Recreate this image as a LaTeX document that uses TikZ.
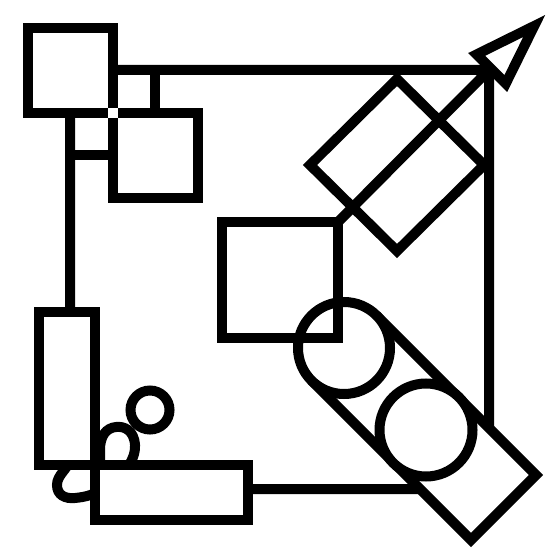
\documentclass[tikz,border=0pt]{standalone}
\begin{document}
\begin{tikzpicture}[x=0.5pt,y=-0.5pt,line width=5pt,line join=miter,
  shapebox/.style={draw=black,fill=white},
  plainbox/.style={draw=black,rectangle,inner sep=0pt,outer sep=0pt}]
\useasboundingbox (0,0) rectangle (560,560);
% frame with loop
\coordinate (fNE) at (489,70);
\draw (110,489) -- (489,489) -- (fNE) -- (70,70) -- (70,460)
  .. controls (67,470) and (57,475) .. (57,485)
  .. controls (57,495) and (65,499) .. (75,498)
  .. controls (85,497) and (92,495) .. (97,492)
  .. controls (120,480) and (136,462) .. (135,445)
  .. controls (134,430) and (124,426) .. (116,427)
  .. controls (106,428) and (100,436) .. (100,450)
  -- (100,475);
% top-left cluster
\draw (70,70) rectangle (155,155);
\draw[shapebox] (28,28) rectangle (113,113);
\draw[shapebox] (113,113) rectangle (198,198);
\fill[white] (108,108) rectangle (118,118);
% bottom-left rectangles
\draw[shapebox] (39,312) rectangle (95,465);
\draw[shapebox] (95,465) rectangle (248,520);
\draw (150,410) circle (19.5);
% bottom-right capsule
\fill[white] (376.5,315.5) -- (536,475) -- (471,540) -- (311.5,380.5) -- cycle;
\draw (376.5,315.5) -- (536,475) -- (471,540) -- (311.5,380.5);
\draw[shapebox] (344,348) circle (46);
\draw[shapebox] (426,430) circle (46.5);
% centre square
\node[plainbox,minimum size=58pt] (sq) at (280,280) {};
% rotated square top right
\draw (397,79) -- (484,165) -- (397,251) -- (310,165) -- cycle;
% arrow
\draw (sq.north east) -- (fNE);
\draw[shapebox] (476.7,54.4) -- (534.2,26) -- (505.8,83.5) -- cycle;
\end{tikzpicture}
\end{document}
